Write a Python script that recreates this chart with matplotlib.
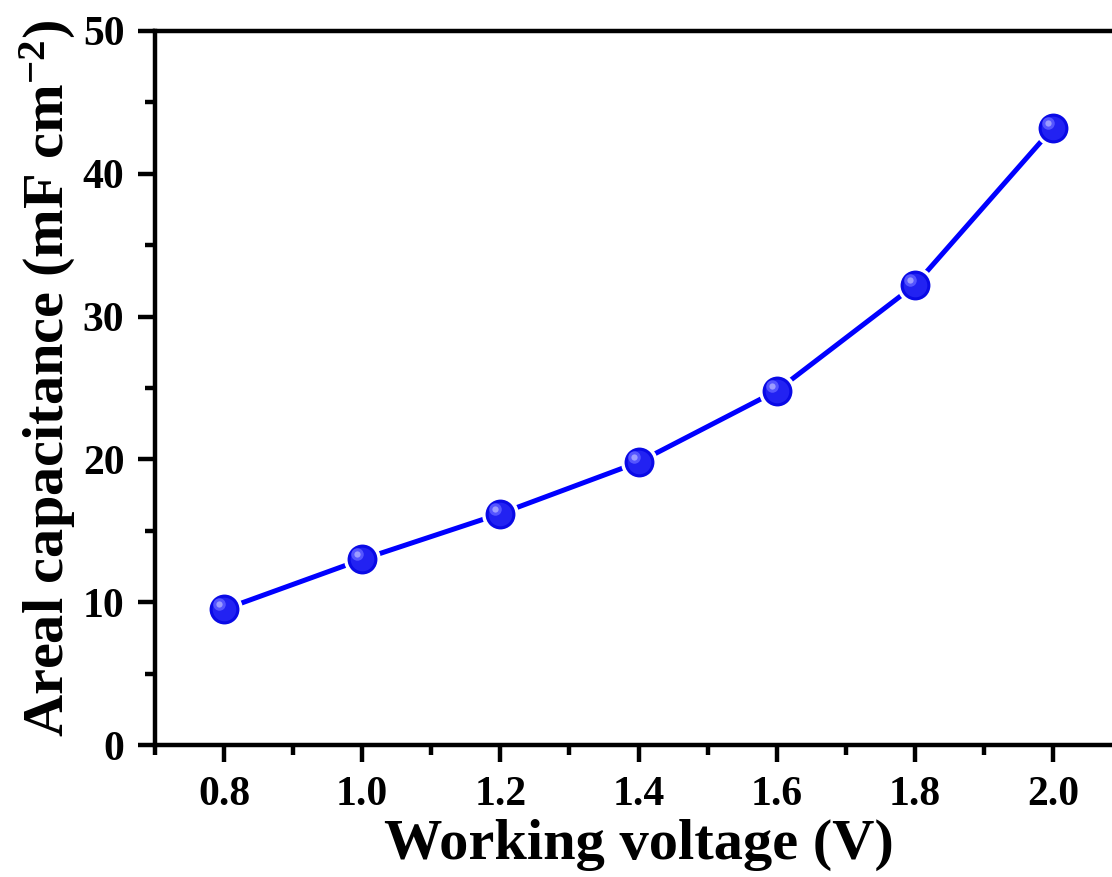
import matplotlib
matplotlib.use("Agg")
import matplotlib.pyplot as plt
from matplotlib.ticker import MultipleLocator
from matplotlib.transforms import offset_copy

#--- data
voltage = [0.8, 1.0, 1.2, 1.4, 1.6, 1.8, 2.0]          # V
capacitance = [9.5, 13.0, 16.2, 19.8, 24.8, 32.2, 43.2]  # mF cm^-2
x_ticks = [0.8, 1.0, 1.2, 1.4, 1.6, 1.8, 2.0]
y_ticks = [0, 10, 20, 30, 40, 50]

plt.rcParams["font.family"] = ["Liberation Serif", "DejaVu Serif"]
plt.rcParams["font.weight"] = "bold"
plt.rcParams["mathtext.fontset"] = "custom"
plt.rcParams["mathtext.rm"] = "Liberation Serif:bold"
plt.rcParams["mathtext.default"] = "rm"

fig = plt.figure(figsize=(11.12, 8.77), dpi=100)
# axes run past the right edge like the cropped original
ax = fig.add_axes([0.1394, 0.1505, 0.8696, 0.8142])

# connecting line, then the spheres on top with a white rim to leave a gap
ax.plot(voltage, capacitance, color="#0000ff", linewidth=3.6, zorder=2)
ax.plot(voltage, capacitance, linestyle="none", marker="o", markersize=24,
        markerfacecolor="#0a0ae6", markeredgecolor="white", markeredgewidth=2.5, zorder=3)
ax.plot(voltage, capacitance, linestyle="none", marker="o", markersize=17,
        markerfacecolor="#2222f2", markeredgewidth=0, zorder=4)

# little highlight up-left on each sphere
hl = offset_copy(ax.transData, fig=fig, x=-5, y=5, units="dots")
ax.plot(voltage, capacitance, linestyle="none", marker="o", markersize=9,
        markerfacecolor="#5555ff", markeredgewidth=0, transform=hl, zorder=5)
ax.plot(voltage, capacitance, linestyle="none", marker="o", markersize=4.5,
        markerfacecolor="#9c9cff", markeredgewidth=0, transform=hl, zorder=6)

ax.set_xlim(0.7, 2.1)
ax.set_ylim(0, 50)
ax.set_xticks(x_ticks)
ax.set_xticklabels([f"{v:.1f}" for v in x_ticks])
ax.set_yticks(y_ticks)
ax.xaxis.set_minor_locator(MultipleLocator(0.1))
ax.yaxis.set_minor_locator(MultipleLocator(5))

for s in ax.spines.values():
    s.set_linewidth(3.2)
ax.tick_params(which="major", direction="out", length=12, width=3.2, labelsize=30, pad=10,
               top=False, right=False)
ax.tick_params(which="minor", direction="out", length=7, width=3.2, top=False, right=False)
for lab in ax.get_xticklabels() + ax.get_yticklabels():
    lab.set_fontweight("bold")

ax.set_xlabel("Working voltage (V)", fontsize=42, fontweight="bold", labelpad=4)
ax.set_ylabel("Areal capacitance (mF cm$^{-2}$)", fontsize=42, fontweight="bold")
ax.yaxis.set_label_coords(-0.08, 0.513)

fig.savefig("out.png", dpi=100)
